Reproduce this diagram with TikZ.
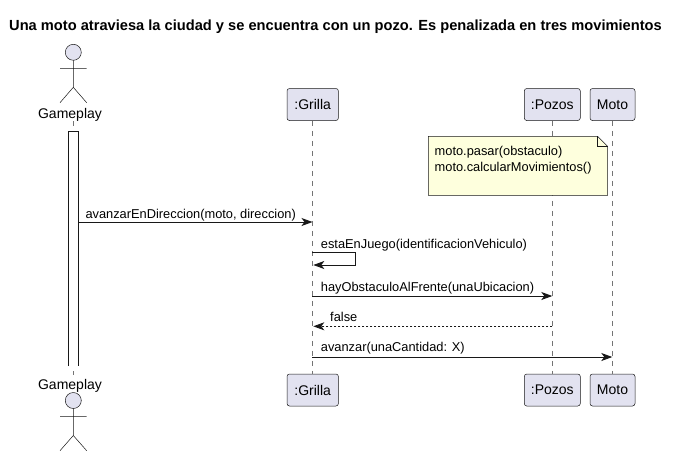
\documentclass[tikz,border=0pt]{standalone}
\usepackage{fontspec}
\setmainfont{Liberation Sans}
\usetikzlibrary{arrows.meta}
\definecolor{pfill}{HTML}{E2E2F0}
\definecolor{pline}{HTML}{181818}
\definecolor{nfill}{HTML}{FEFFDD}
\tikzset{
 x=1pt,y=-1pt,
 part/.style={draw=pline,fill=pfill,rounded corners=2.5pt,line width=0.5pt,minimum height=32pt,inner sep=0pt,anchor=center,font=\fontsize{14}{16}\selectfont},
 life/.style={draw=pline!60,dash pattern=on 5pt off 5pt,line width=0.5pt},
 msg/.style={draw=pline,line width=0.9pt,-{Stealth[length=11pt,width=8pt,inset=3pt]}},
 ret/.style={msg,dash pattern=on 2pt off 2pt},
 lbl/.style={inner sep=0pt,anchor=base west,font=\fontsize{12.83}{14}\selectfont,text=black},
 act/.style={font=\fontsize{14}{16}\selectfont,inner sep=0pt,anchor=center},
 stick/.style={draw=pline,line width=0.5pt},
}
\begin{document}
\begin{tikzpicture}
\useasboundingbox (0,0) rectangle (679,456);
\fill[white] (0,0) rectangle (679,456);
\node[inner sep=0pt,font=\bfseries\fontsize{14.65}{17}\selectfont] (title) at (335.5,27) {Una moto atraviesa la ciudad y se encuentra con un pozo. Es penalizada en tres movimientos};
% participants
\node[act] (gtop) at (70,114.5) {Gameplay};
\node[act] (gbot) at (70,385.5) {Gameplay};
\node[part,minimum width=51.4pt] (gr1) at (312.7,104.5) {:Grilla};
\node[part,minimum width=51.4pt] (gr2) at (312.7,390) {:Grilla};
\node[part,minimum width=56pt] (po1) at (552.3,104.5) {:Pozos};
\node[part,minimum width=56pt] (po2) at (552.3,390) {:Pozos};
\node[part,minimum width=45pt] (mo1) at (612.5,104.5) {Moto};
\node[part,minimum width=45pt] (mo2) at (612.5,390) {Moto};
% lifelines
\coordinate (gl1) at (73.3,121);
\coordinate (gl2) at (73.3,375);
\draw[life] (gl1) -- (gl2);
\draw[life] (gr1.south) -- (gr2.north);
\draw[life] (po1.south) -- (po2.north);
\draw[life] (mo1.south) -- (mo2.north);
% activation
\fill[white] (68.5,131) rectangle (78.5,366);
\draw[pline,line width=0.9pt] (68.5,366) -- (68.5,131) -- (78.5,131) -- (78.5,366);
% actors
\draw[stick,fill=pfill] (73.3,52.3) circle (8);
\draw[stick] (73.3,60.3) -- (73.3,87.3) (60,68.3) -- (86.7,68.3) (60,102.7) -- (73.3,87.3) -- (86.7,102.7);
\draw[stick,fill=pfill] (73.3,400.5) circle (8);
\draw[stick] (73.3,408.5) -- (73.3,435.5) (60,416.3) -- (86.7,416.3) (60,450.7) -- (73.3,435.5) -- (86.7,450.7);
% note
\draw[draw=pline,fill=nfill,line width=0.5pt] (428.3,136.3) -- (597.5,136.3) -- (607.5,146.3) -- (607.5,195.3) -- (428.3,195.3) -- cycle;
\draw[draw=pline,line width=0.5pt] (597.5,136.3) -- (597.5,146.3) -- (607.5,146.3);
\node[lbl] (n1) at (434.5,155) {moto.pasar(obstaculo)};
\node[lbl] (n2) at (434.5,171) {moto.calcularMovimientos()};
% messages
\coordinate (m1a) at (78.5,222);
\coordinate (m1b) at (312.5,222);
\draw[msg] (m1a) -- (m1b);
\node[lbl] (t1) at (85.3,218) {avanzarEnDireccion(moto, direccion)};
\coordinate (m2a) at (312.3,252.3);
\coordinate (m2b) at (355.3,252.3);
\coordinate (m2c) at (355.3,265);
\coordinate (m2d) at (313.3,265);
\draw[msg] (m2a) -- (m2b) -- (m2c) -- (m2d);
\node[lbl] (t2) at (320.7,248.2) {estaEnJuego(identificacionVehiculo)};
\coordinate (m3a) at (312.3,296);
\coordinate (m3b) at (552.3,296);
\draw[msg] (m3a) -- (m3b);
\node[lbl] (t3) at (320.7,291) {hayObstaculoAlFrente(unaUbicacion)};
\coordinate (m4a) at (552.3,326.3);
\coordinate (m4b) at (313.3,326.3);
\draw[ret] (m4a) -- (m4b);
\node[lbl] (t4) at (330,321.7) {false};
\coordinate (m5a) at (312.3,357);
\coordinate (m5b) at (612.3,357);
\draw[msg] (m5a) -- (m5b);
\node[lbl] (t5) at (320.7,351.7) {avanzar(unaCantidad: X)};
\end{tikzpicture}
\end{document}
